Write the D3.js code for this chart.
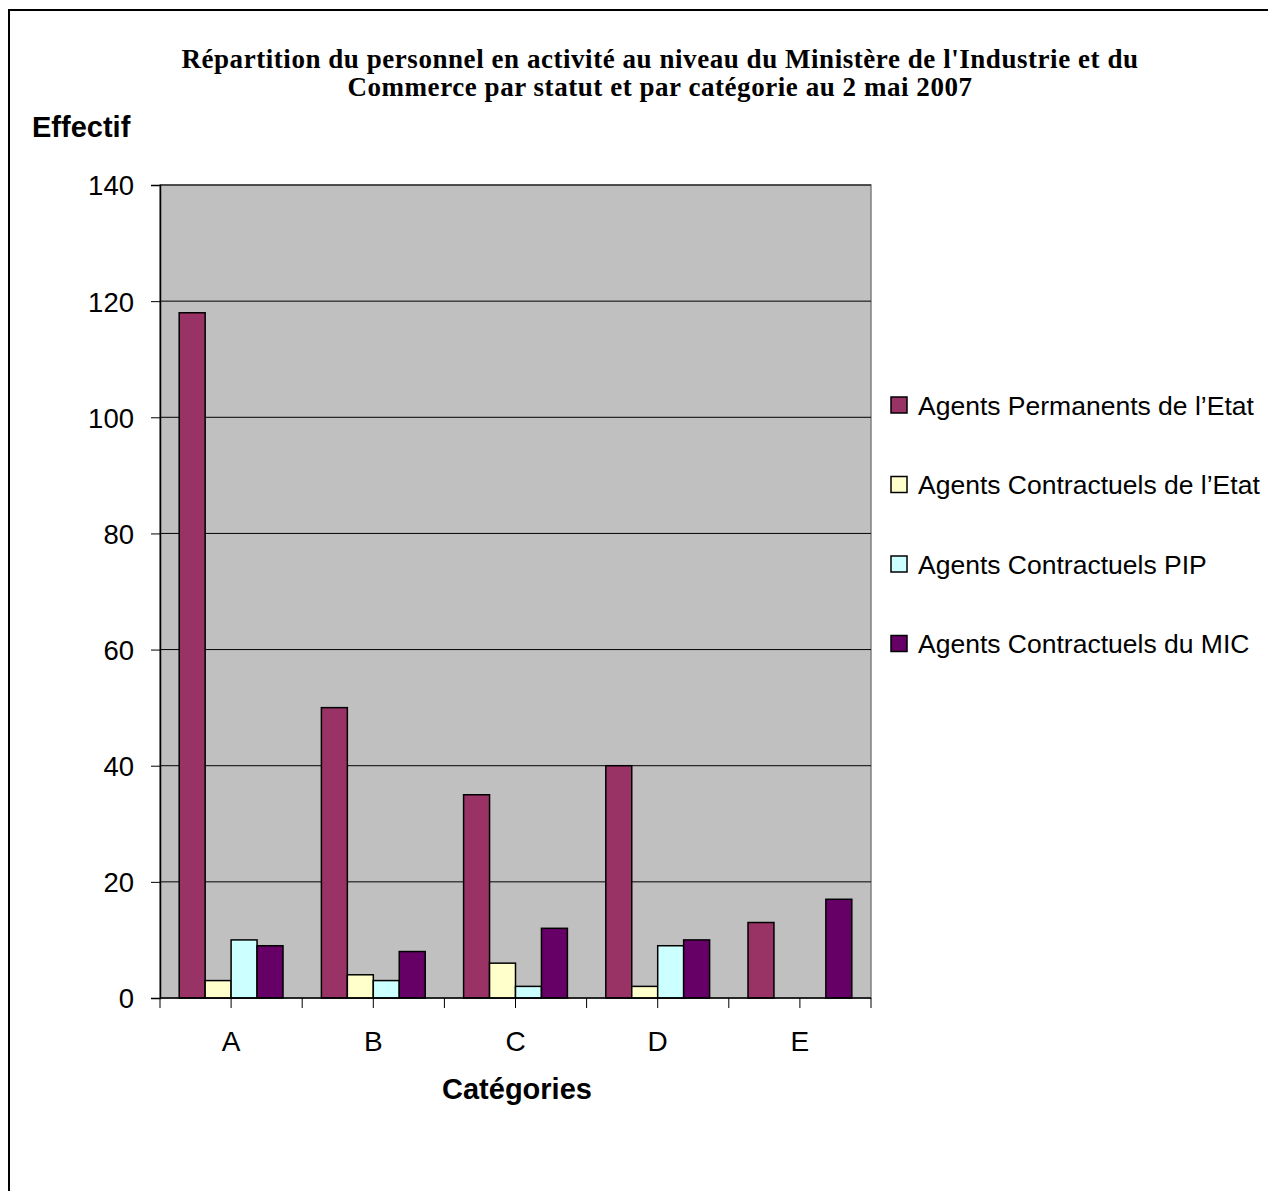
<!DOCTYPE html>
<html><head><meta charset="utf-8">
<script src="https://cdn.jsdelivr.net/npm/d3@7"></script>
<style>body{margin:0;background:#fff}svg{display:block}</style>
</head><body>
<svg id="c" width="1268" height="1191"></svg>
<script>
const categories = ["A","B","C","D","E"];
const seriesNames = ["Agents Permanents de l’Etat","Agents Contractuels de l’Etat","Agents Contractuels PIP","Agents Contractuels du MIC"];
const seriesColors = ["#993366","#FFFFCC","#CCFFFF","#660066"];
const permanents = [118,50,35,40,13];
const contractuelsEtat = [3,4,6,2,0];
const contractuelsPIP = [10,3,2,9,0];
const contractuelsMIC = [9,8,12,10,17];
const yTicks = [0,20,40,60,80,100,120,140];
const titleLines = ["Répartition du personnel en activité au niveau du Ministère de l'Industrie et du","Commerce par statut et par catégorie au 2 mai 2007"];

const series = [permanents, contractuelsEtat, contractuelsPIP, contractuelsMIC];
const svg = d3.select("#c");
const L=160, R=871, T=185, B=998;

svg.append("rect").attr("x",9).attr("y",10).attr("width",1300).attr("height",1300)
  .attr("fill","none").attr("stroke","#000").attr("stroke-width",2);

svg.selectAll("text.title").data(titleLines).join("text")
  .attr("x",660).attr("y",(d,i)=>68+i*28).attr("text-anchor","middle")
  .attr("font-family","'Liberation Serif','Times New Roman',serif").attr("font-weight","bold")
  .attr("font-size",27).attr("letter-spacing","0.55px").text(d=>d);

const y = d3.scaleLinear().domain([0,140]).range([B,T]);
const x = d3.scaleBand().domain(categories).range([L,R]).paddingInner(0.27).paddingOuter(0.135);
const xs = d3.scaleBand().domain(d3.range(4)).range([0,x.bandwidth()]);
const xFull = d3.scaleBand().domain(categories).range([L,R]);

svg.append("rect").attr("x",L).attr("y",T).attr("width",R-L).attr("height",B-T)
  .attr("fill","#C0C0C0").attr("stroke","#808080").attr("stroke-width",1.5);

svg.selectAll("line.grid").data(yTicks.filter(t=>t>0)).join("line")
  .attr("x1",L).attr("x2",R).attr("y1",d=>y(d)).attr("y2",d=>y(d))
  .attr("stroke","#000").attr("stroke-width",1);

const groups = svg.selectAll("g.cat").data(categories).join("g")
  .attr("transform",d=>`translate(${x(d)},0)`);
groups.each(function(c,ci){
  d3.select(this).selectAll("rect").data(series.map((s,si)=>({si,v:s[ci]})).filter(d=>d.v>0)).join("rect")
    .attr("x",d=>xs(d.si)).attr("width",xs.bandwidth())
    .attr("y",d=>y(d.v)).attr("height",d=>B-y(d.v))
    .attr("fill",d=>seriesColors[d.si]).attr("stroke","#000").attr("stroke-width",1.5);
});

// y axis
const yAxis = d3.axisLeft(y).tickValues(yTicks).tickSize(9).tickPadding(17);
const ya = svg.append("g").attr("transform",`translate(${L},0)`).call(yAxis);
ya.select(".domain").attr("stroke","#000").attr("stroke-width",1.5);
ya.selectAll(".tick line").attr("stroke","#000");
ya.selectAll("text").attr("font-family","'Liberation Sans',Arial,sans-serif").attr("font-size",27.5).attr("fill","#000").attr("dy","0.36em");

// x axis
const xAxis = d3.axisBottom(x).tickSize(0).tickPadding(36);
const xa = svg.append("g").attr("transform",`translate(0,${B})`).call(xAxis);
xa.select(".domain").remove();
xa.selectAll("text").attr("font-family","'Liberation Sans',Arial,sans-serif").attr("font-size",28).attr("fill","#000").attr("dy","0.6em");
const tickPos = [];
categories.forEach(c=>{tickPos.push(xFull(c)); tickPos.push(xFull(c)+xFull.bandwidth()/2);});
tickPos.push(R);
svg.selectAll("line.xt").data(tickPos).join("line")
  .attr("x1",d=>d).attr("x2",d=>d).attr("y1",B).attr("y2",B+10).attr("stroke","#000");
svg.append("line").attr("x1",L).attr("x2",R).attr("y1",B).attr("y2",B).attr("stroke","#000").attr("stroke-width",1.5);

svg.append("text").attr("x",32).attr("y",137).attr("font-family","'Liberation Sans',Arial,sans-serif")
  .attr("font-weight","bold").attr("font-size",29).text("Effectif");
svg.append("text").attr("x",517).attr("y",1099).attr("text-anchor","middle").attr("font-family","'Liberation Sans',Arial,sans-serif")
  .attr("font-weight","bold").attr("font-size",29).text("Catégories");

const lg = svg.selectAll("g.leg").data(seriesNames).join("g")
  .attr("transform",(d,i)=>`translate(891,${405+i*79.5})`);
lg.append("rect").attr("x",0).attr("y",-8).attr("width",16).attr("height",16)
  .attr("fill",(d,i)=>seriesColors[i]).attr("stroke","#000").attr("stroke-width",1.5);
lg.append("text").attr("x",27).attr("y",0).attr("dy","0.36em").attr("font-family","'Liberation Sans',Arial,sans-serif")
  .attr("font-size",26.5).text(d=>d);
</script>
</body></html>
